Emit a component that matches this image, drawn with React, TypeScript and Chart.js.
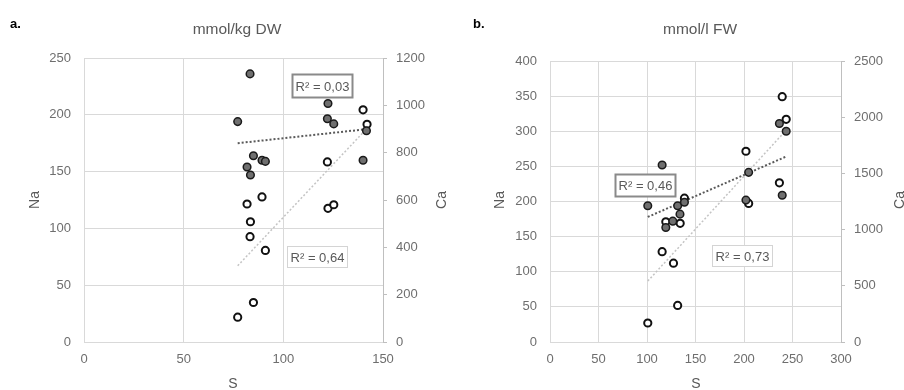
import React, { useEffect, useRef } from "react";
import { Chart, registerables } from "chart.js";
Chart.register(...registerables);

// ---------- Panel a: mmol/kg DW ----------
const sNaA = [83.3, 77.1, 122.4, 122.1, 125.3, 141.7, 140, 85, 89.3, 91, 81.8, 83.5];
const naA = [236, 194, 210, 196.5, 192, 186, 160, 164, 160, 159, 154, 147];
const sCaA = [140, 142, 122.1, 89.3, 81.8, 122.4, 125.3, 83.5, 83.3, 91, 85, 77.1];
const caA = [981, 920, 761, 613, 583, 565, 580, 508, 445, 387, 167, 105];
const trendSA = [77.1, 142];
const trendNaA = [175, 187.4];
const trendCaA = [322, 903];
const r2A = ["R² = 0,03", "R² = 0,64"];

// ---------- Panel b: mmol/l FW ----------
const sNaB = [115.6, 100.8, 131.6, 138.6, 134, 126.6, 119.4, 236.5, 243.5, 239.4, 202, 204.8];
const naB = [252, 194, 194, 199, 182, 172, 163, 311, 300, 209, 202, 241.5];
const sCaB = [239.4, 243.5, 202, 236.5, 204.8, 138.6, 119.4, 134.2, 115.6, 127.3, 131.6, 100.8];
const caB = [2183, 1981, 1697, 1416, 1233, 1280, 1070, 1056, 804, 701, 325, 169];
const trendSB = [100.8, 243.5];
const trendNaB = [178, 264];
const trendCaB = [542, 1885];
const r2B = ["R² = 0,46", "R² = 0,73"];

const FONT = "'Liberation Sans', Arial, sans-serif";
const TXT = "#6e6e6e";
const GRID = "#d9d9d9";

type Box = { x: number; y: number; w: number; h: number; text: string; strong: boolean };

type PanelCfg = {
  width: number;
  letter: string;
  letterX: number;
  title: string;
  titleX: number;
  s: number[][];
  na: number[];
  ca: number[];
  trendS: number[];
  trendNa: number[];
  trendCa: number[];
  xMax: number;
  yMax: number;
  y2Max: number;
  y2Step: number;
  leftW: number;
  rightW: number;
  top: number;
  naX: number;
  caX: number;
  sX: number;
  boxes: Box[];
};

function pts(xs: number[], ys: number[]) {
  return xs.map((x, i) => ({ x, y: ys[i] }));
}

const plain = (v: any) => String(v);

function makeChart(canvas: HTMLCanvasElement, c: PanelCfg) {
  const deco = {
    id: "deco" + c.letter,
    afterDraw(chart: any) {
      const ctx = chart.ctx as CanvasRenderingContext2D;
      ctx.save();
      ctx.fillStyle = "#000";
      ctx.font = `bold 13px ${FONT}`;
      ctx.textAlign = "left";
      ctx.textBaseline = "alphabetic";
      ctx.fillText(c.letter, c.letterX, 28);
      ctx.fillStyle = "#595959";
      ctx.font = `15.5px ${FONT}`;
      ctx.textAlign = "center";
      ctx.textBaseline = "middle";
      ctx.fillText(c.title, c.titleX, 30);
      ctx.font = `14px ${FONT}`;
      ctx.fillText("S", c.sX, 384);
      ctx.save();
      ctx.translate(c.naX, 200);
      ctx.rotate(-Math.PI / 2);
      ctx.fillText("Na", 0, 0);
      ctx.restore();
      ctx.save();
      ctx.translate(c.caX, 200);
      ctx.rotate(-Math.PI / 2);
      ctx.fillText("Ca", 0, 0);
      ctx.restore();
      for (const b of c.boxes) {
        ctx.fillStyle = "#ffffff";
        ctx.fillRect(b.x, b.y, b.w, b.h);
        ctx.lineWidth = b.strong ? 2 : 1;
        ctx.strokeStyle = b.strong ? "#8a8a8a" : "#d4d4d4";
        ctx.strokeRect(b.x + 0.5, b.y + 0.5, b.w - 1, b.h - 1);
        ctx.fillStyle = "#595959";
        ctx.font = `13px ${FONT}`;
        ctx.textAlign = "center";
        ctx.textBaseline = "middle";
        ctx.fillText(b.text, b.x + b.w / 2, b.y + b.h / 2 + 1);
      }
      ctx.restore();
    },
  };

  const tickFont = { family: FONT, size: 13 };

  return new Chart(canvas, {
    type: "scatter",
    data: {
      datasets: [
        {
          label: "Na",
          data: pts(c.s[0], c.na),
          yAxisID: "y",
          backgroundColor: "#6f6f6f",
          borderColor: "#1a1a1a",
          borderWidth: 1.5,
          pointRadius: 3.8,
        },
        {
          label: "Ca",
          data: pts(c.s[1], c.ca),
          yAxisID: "y2",
          backgroundColor: "#ffffff",
          borderColor: "#111111",
          borderWidth: 2,
          pointRadius: 3.6,
        },
        {
          label: "Na trend",
          data: pts(c.trendS, c.trendNa),
          yAxisID: "y",
          showLine: true,
          pointRadius: 0,
          borderColor: "#5a5a5a",
          borderWidth: 2,
          borderDash: [2, 2],
        },
        {
          label: "Ca trend",
          data: pts(c.trendS, c.trendCa),
          yAxisID: "y2",
          showLine: true,
          pointRadius: 0,
          borderColor: "#c4c4c4",
          borderWidth: 1.5,
          borderDash: [2, 2],
        },
      ] as any,
    },
    options: {
      responsive: false,
      animation: false,
      devicePixelRatio: 1,
      layout: { padding: { top: c.top, left: 0, right: 0, bottom: 0 } },
      plugins: { legend: { display: false }, tooltip: { enabled: false } },
      scales: {
        x: {
          type: "linear",
          min: 0,
          max: c.xMax,
          ticks: { stepSize: 50, font: tickFont, color: TXT, padding: 10, callback: plain },
          grid: { color: GRID, drawTicks: false },
          border: { color: GRID },
          afterFit: (s: any) => {
            s.height = 48;
          },
        },
        y: {
          type: "linear",
          position: "left",
          min: 0,
          max: c.yMax,
          ticks: { stepSize: 50, font: tickFont, color: TXT, padding: 13, callback: plain },
          grid: { color: GRID, drawTicks: false },
          border: { color: GRID },
          afterFit: (s: any) => {
            s.width = c.leftW;
          },
        },
        y2: {
          type: "linear",
          position: "right",
          min: 0,
          max: c.y2Max,
          ticks: { stepSize: c.y2Step, font: tickFont, color: TXT, padding: 9, callback: plain },
          grid: { drawOnChartArea: false, color: "#bfbfbf", tickLength: 4 },
          border: { color: "#bfbfbf" },
          afterFit: (s: any) => {
            s.width = c.rightW;
          },
        },
      },
    } as any,
    plugins: [deco],
  });
}

const cfgA: PanelCfg = {
  width: 450,
  letter: "a.",
  letterX: 10,
  title: "mmol/kg DW",
  titleX: 237,
  s: [sNaA, sCaA],
  na: naA,
  ca: caA,
  trendS: trendSA,
  trendNa: trendNaA,
  trendCa: trendCaA,
  xMax: 150,
  yMax: 250,
  y2Max: 1200,
  y2Step: 200,
  leftW: 84,
  rightW: 67,
  top: 58,
  naX: 35,
  caX: 442,
  sX: 233,
  boxes: [
    { x: 292, y: 74, w: 61, h: 24, text: r2A[0], strong: true },
    { x: 287, y: 246, w: 61, h: 22, text: r2A[1], strong: false },
  ],
};

const cfgB: PanelCfg = {
  width: 454,
  letter: "b.",
  letterX: 23,
  title: "mmol/l FW",
  titleX: 250,
  s: [sNaB, sCaB],
  na: naB,
  ca: caB,
  trendS: trendSB,
  trendNa: trendNaB,
  trendCa: trendCaB,
  xMax: 300,
  yMax: 400,
  y2Max: 2500,
  y2Step: 500,
  leftW: 100,
  rightW: 63,
  top: 61,
  naX: 50,
  caX: 450,
  sX: 246,
  boxes: [
    { x: 165, y: 174, w: 61, h: 23, text: r2B[0], strong: true },
    { x: 262, y: 245, w: 61, h: 22, text: r2B[1], strong: false },
  ],
};

function Panel({ cfg, left }: { cfg: PanelCfg; left: number }) {
  const ref = useRef<HTMLCanvasElement | null>(null);
  useEffect(() => {
    if (!ref.current) return;
    const ch = makeChart(ref.current, cfg);
    return () => ch.destroy();
  }, [cfg]);
  return (
    <canvas
      ref={ref}
      width={cfg.width}
      height={390}
      style={{ position: "absolute", left, top: 0, width: cfg.width, height: 390 }}
    />
  );
}

export default function App() {
  return (
    <div
      style={{
        position: "absolute",
        left: 0,
        top: 0,
        width: 904,
        height: 390,
        background: "#ffffff",
        overflow: "hidden",
      }}
    >
      <Panel cfg={cfgA} left={0} />
      <Panel cfg={cfgB} left={450} />
    </div>
  );
}
